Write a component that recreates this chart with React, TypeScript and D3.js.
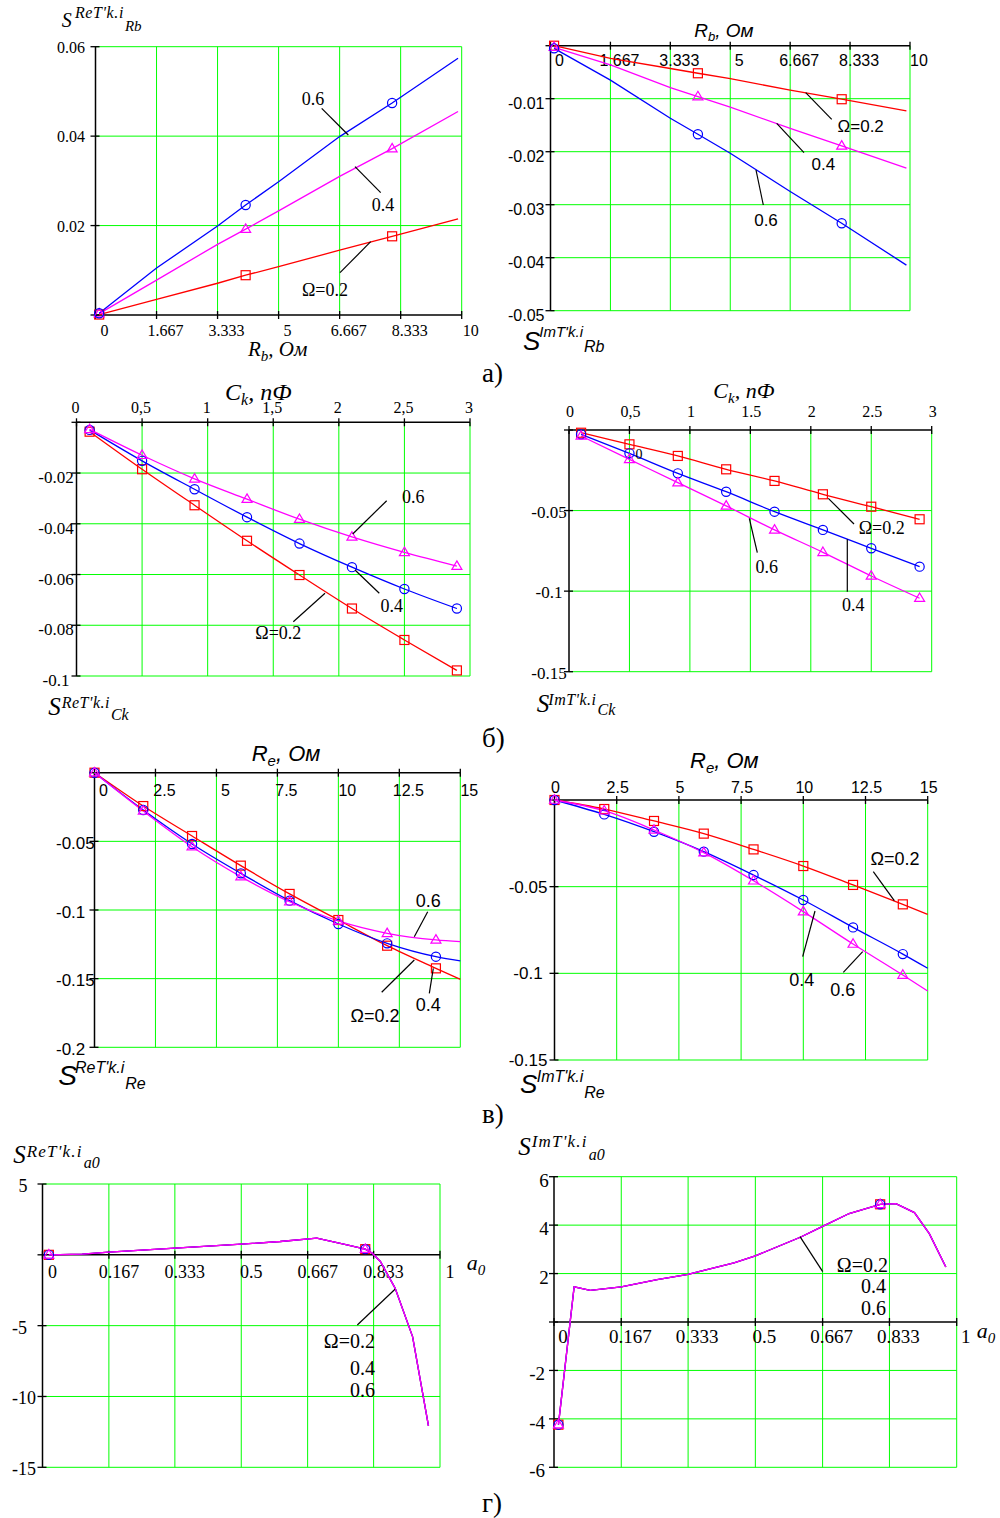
import React from 'react';
import * as d3 from 'd3';

const SERIF = "'Liberation Serif', 'Times New Roman', serif";
const SANS = "'Liberation Sans', Arial, sans-serif";
const RED = '#ff0000';
const BLUE = '#0000ff';
const MAG = '#ff00ff';
const GRID = '#00ff00';

// ---------- DATA ----------
// а) Rb panels
const rbX = [0.1, 1.667, 3.333, 4.1, 5, 6.667, 8.1, 9.9];
const rbMarks = [0, 3, 6];
const sReRb02 = [0.0001, 0.0035, 0.0071, 0.0089, 0.0108, 0.0145, 0.0176, 0.0215];
const sReRb04 = [0.0003, 0.0078, 0.0158, 0.0192, 0.0233, 0.031, 0.0372, 0.0455];
const sReRb06 = [0.0004, 0.0105, 0.0199, 0.0246, 0.0298, 0.0399, 0.0474, 0.0574];
const sImRb02 = [0, -0.0024, -0.0043, -0.0052, -0.0062, -0.0084, -0.0101, -0.0123];
const sImRb04 = [-0.0003, -0.0036, -0.0079, -0.0096, -0.0116, -0.0156, -0.0189, -0.0231];
const sImRb06 = [-0.0005, -0.0065, -0.0137, -0.0167, -0.0203, -0.0275, -0.0335, -0.0414];
const rbTicks = [0, 1.667, 3.333, 5, 6.667, 8.333, 10];
const rbTickLabels = ['0', '1.667', '3.333', '5', '6.667', '8.333', '10'];
const reRbYTicks = [0.02, 0.04, 0.06];
const reRbYLabels = ['0.02', '0.04', '0.06'];
const imRbYTicks = [-0.01, -0.02, -0.03, -0.04, -0.05];
const imRbYLabels = ['-0.01', '-0.02', '-0.03', '-0.04', '-0.05'];

// б) Ck panels
const ckX = [0.1, 0.5, 0.9, 1.3, 1.7, 2.1, 2.5, 2.9];
const ckMarks = [0, 1, 2, 3, 4, 5, 6, 7];
const sReCk02 = [-0.0037, -0.0185, -0.0327, -0.0467, -0.0602, -0.0734, -0.0858, -0.0978];
const sReCk04 = [-0.003, -0.0152, -0.0264, -0.0374, -0.0478, -0.0571, -0.0657, -0.0734];
const sReCk06 = [-0.0028, -0.013, -0.0223, -0.0303, -0.0382, -0.0452, -0.0513, -0.0567];
const sImCk02 = [-0.0017, -0.0089, -0.0161, -0.0244, -0.0316, -0.0399, -0.0476, -0.0554];
const sImCk04 = [-0.0027, -0.0145, -0.0269, -0.0383, -0.0507, -0.062, -0.0734, -0.0848];
const sImCk06 = [-0.0037, -0.0182, -0.0327, -0.0471, -0.062, -0.0759, -0.0906, -0.1044];
const ckTicks = [0, 0.5, 1, 1.5, 2, 2.5, 3];
const reCkTickLabels = ['0', '0,5', '1', '1,5', '2', '2,5', '3'];
const imCkTickLabels = ['0', '0,5', '1', '1.5', '2', '2.5', '3'];
const reCkYTicks = [-0.02, -0.04, -0.06, -0.08, -0.1];
const reCkYLabels = ['-0.02', '-0.04', '-0.06', '-0.08', '-0.1'];
const imCkYTicks = [-0.05, -0.1, -0.15];
const imCkYLabels = ['-0.05', '-0.1', '-0.15'];

// в) Re panels
const reX = [0, 2, 4, 6, 8, 10, 12, 14, 15];
const reMarks = [0, 1, 2, 3, 4, 5, 6, 7];
const sReRe02 = [0, -0.0243, -0.0461, -0.0677, -0.0883, -0.1073, -0.126, -0.1425, -0.1505];
const sReRe04 = [0, -0.0272, -0.0519, -0.0733, -0.0932, -0.1102, -0.1243, -0.134, -0.1371];
const sReRe06 = [0, -0.0279, -0.0539, -0.0757, -0.094, -0.108, -0.117, -0.1218, -0.123];
const sImRe02 = [0, -0.0052, -0.0121, -0.0194, -0.0285, -0.0381, -0.049, -0.0602, -0.066];
const sImRe04 = [0, -0.0083, -0.0183, -0.0298, -0.0433, -0.0577, -0.0735, -0.0889, -0.0971];
const sImRe06 = [0, -0.0062, -0.0173, -0.0304, -0.0466, -0.0644, -0.0831, -0.101, -0.1102];
const reTicks = [0, 2.5, 5, 7.5, 10, 12.5, 15];
const reTickLabels = ['0', '2.5', '5', '7.5', '10', '12.5', '15'];
const reReYTicks = [-0.05, -0.1, -0.15, -0.2];
const reReYLabels = ['-0.05', '-0.1', '-0.15', '-0.2'];
const imReYTicks = [-0.05, -0.1, -0.15];
const imReYLabels = ['-0.05', '-0.1', '-0.15'];

// г) a0 panels (all three Ω curves coincide)
const a0ReX = [0.016, 0.1, 0.167, 0.25, 0.333, 0.5, 0.598, 0.69, 0.766, 0.812, 0.829, 0.85, 0.887, 0.931, 0.971];
const sReA0 = [0, 0.05, 0.19, 0.33, 0.47, 0.75, 0.94, 1.18, 0.7, 0.4, 0.12, -0.47, -2.35, -5.77, -12.07];
const a0ReMarks = [0, 9];
const a0ImX = [0.011, 0.05, 0.09, 0.167, 0.256, 0.333, 0.447, 0.5, 0.613, 0.667, 0.733, 0.81, 0.849, 0.895, 0.932, 0.973];
const sImA0 = [-4.24, 1.45, 1.31, 1.45, 1.75, 1.97, 2.44, 2.73, 3.51, 3.95, 4.48, 4.86, 4.89, 4.52, 3.65, 2.27];
const a0ImMarks = [0, 11];
const a0Ticks = [0, 0.167, 0.333, 0.5, 0.667, 0.833, 1];
const a0TickLabels = ['0', '0.167', '0.333', '0.5', '0.667', '0.833', '1'];
const reA0YTicks = [5, -5, -10, -15];
const reA0YLabels = ['5', '-5', '-10', '-15'];
const imA0YTicks = [6, 4, 2, -2, -4, -6];
const imA0YLabels = ['6', '4', '2', '-2', '-4', '-6'];

// ---------- TYPES ----------
type Marker = 'square' | 'circle' | 'triangle';
interface Series { y: number[]; color: string; marker: Marker; }
interface Note { t: string; x: number; y: number; a?: 'start' | 'middle' | 'end'; s: number; }
interface STitle { sx: number; sy: number; ss: number; sup: string; px: number; py: number; ps: number; sub: string; by: number; bs: number; ls?: number; }
interface ATitle { main: string; sub: string; rest: string; x: number; y: number; s: number; ss: number; }
interface PanelCfg {
  font: string;
  left: number; right: number; top: number; bottom: number;
  xDomain: [number, number]; yDomain: [number, number];
  xTicks: number[]; xLabels: string[]; xAxisAt: number;
  xLabelDx: number; xLabelBase: number; xLabelSize: number;
  yTicks: number[]; yLabels: string[]; yLabelX: number; yLabelAnchor: 'start' | 'middle' | 'end';
  yLabelDy: number; yLabelSize: number; yPosDx?: number;
  x: number[]; series: Series[]; markIdx: number[]; curve: d3.CurveFactory;
  notes: Note[]; leaders: number[][];
  sTitle: STitle; aTitle: ATitle;
}

const MarkerShape = ({ m, x, y, color }: { m: Marker; x: number; y: number; color: string }) => {
  if (m === 'square') return <rect x={x - 4.5} y={y - 4.5} width={9} height={9} fill="none" stroke={color} strokeWidth={1.2} />;
  if (m === 'circle') return <circle cx={x} cy={y} r={4.6} fill="none" stroke={color} strokeWidth={1.2} />;
  const h = 8.5;
  return <path d={`M${x},${y - h * 0.62} L${x + 5},${y + h * 0.38} L${x - 5},${y + h * 0.38} Z`} fill="none" stroke={color} strokeWidth={1.2} />;
};

const Panel = ({ c }: { c: PanelCfg }) => {
  const xs = d3.scaleLinear().domain(c.xDomain).range([c.left, c.right]);
  const ys = d3.scaleLinear().domain(c.yDomain).range([c.bottom, c.top]);
  const axisY = ys(c.xAxisAt);
  const line = d3.line<[number, number]>().x(d => xs(d[0])).y(d => ys(d[1])).curve(c.curve);
  const yTickAll = [...c.yTicks, c.xAxisAt];
  const st = c.sTitle;
  const at = c.aTitle;
  return (
    <g fontFamily={c.font}>
      {/* grid */}
      {c.xTicks.filter(t => t > c.xDomain[0]).map((t, i) => (
        <line key={'gx' + i} x1={xs(t)} x2={xs(t)} y1={c.top} y2={c.bottom} stroke={GRID} strokeWidth={1} />
      ))}
      {c.yTicks.map((t, i) => (
        <line key={'gy' + i} x1={c.left} x2={c.right} y1={ys(t)} y2={ys(t)} stroke={GRID} strokeWidth={1} />
      ))}
      {/* axes */}
      <line x1={c.left} x2={c.right} y1={axisY} y2={axisY} stroke="#000" strokeWidth={1.5} />
      <line x1={c.left} x2={c.left} y1={c.top} y2={c.bottom} stroke="#000" strokeWidth={1.5} />
      {c.xTicks.map((t, i) => (
        <line key={'tx' + i} x1={xs(t)} x2={xs(t)} y1={axisY - 4} y2={axisY + 4} stroke="#000" strokeWidth={1.3} />
      ))}
      {yTickAll.map((t, i) => (
        <line key={'ty' + i} x1={c.left - 5} x2={c.left + 4} y1={ys(t)} y2={ys(t)} stroke="#000" strokeWidth={1.3} />
      ))}
      {/* tick labels */}
      {c.xTicks.map((t, i) => (
        <text key={'lx' + i} x={xs(t) + c.xLabelDx} y={c.xLabelBase} fontSize={c.xLabelSize} textAnchor="middle">{c.xLabels[i]}</text>
      ))}
      {c.yTicks.map((t, i) => (
        <text key={'ly' + i}
          x={c.yLabelX + (c.yPosDx && !c.yLabels[i].startsWith('-') ? c.yPosDx : 0)}
          y={ys(t) + c.yLabelDy} fontSize={c.yLabelSize} textAnchor={c.yLabelAnchor}>{c.yLabels[i]}</text>
      ))}
      {/* curves */}
      {c.series.map((s, i) => (
        <path key={'c' + i} d={line(c.x.map((xv, k) => [xv, s.y[k]] as [number, number])) || ''} fill="none" stroke={s.color} strokeWidth={1.3} />
      ))}
      {c.series.map((s, i) => (
        <g key={'m' + i}>
          {c.markIdx.map(k => <MarkerShape key={k} m={s.marker} x={xs(c.x[k])} y={ys(s.y[k])} color={s.color} />)}
        </g>
      ))}
      {/* leaders */}
      {c.leaders.map((l, i) => (
        <line key={'ld' + i} x1={l[0]} y1={l[1]} x2={l[2]} y2={l[3]} stroke="#000" strokeWidth={1.2} />
      ))}
      {c.notes.map((n, i) => (
        <text key={'n' + i} x={n.x} y={n.y} fontSize={n.s} textAnchor={n.a || 'middle'}>{n.t}</text>
      ))}
      {/* S title */}
      <g fontStyle="italic">
        <text x={st.sx} y={st.sy} fontSize={st.ss}>S</text>
        <text x={st.px} y={st.py} fontSize={st.ps} letterSpacing={st.ls || 0}>
          {st.sup}
          <tspan fontSize={st.bs} dx={1} dy={st.by - st.py} letterSpacing={0}>{st.sub}</tspan>
        </text>
      </g>
      {/* axis title */}
      <text x={at.x} y={at.y} fontSize={at.s} fontStyle="italic">
        <tspan>{at.main}</tspan>
        <tspan fontSize={at.ss} dy={at.s * 0.22}>{at.sub}</tspan>
        {at.rest ? <tspan dy={-at.s * 0.22}>{at.rest}</tspan> : null}
      </text>
    </g>
  );
};

const red = (y: number[]): Series => ({ y, color: RED, marker: 'square' });
const blue = (y: number[]): Series => ({ y, color: BLUE, marker: 'circle' });
const mag = (y: number[]): Series => ({ y, color: MAG, marker: 'triangle' });

const panels: PanelCfg[] = [
  {
    font: SERIF, left: 95.5, right: 461.7, top: 46.7, bottom: 315,
    xDomain: [0, 10], yDomain: [0, 0.06],
    xTicks: rbTicks, xLabels: rbTickLabels, xAxisAt: 0, xLabelDx: 9, xLabelBase: 336, xLabelSize: 16,
    yTicks: reRbYTicks, yLabels: reRbYLabels, yLabelX: 57, yLabelAnchor: 'start', yLabelDy: 6, yLabelSize: 16,
    x: rbX, series: [red(sReRb02), mag(sReRb04), blue(sReRb06)], markIdx: rbMarks, curve: d3.curveLinear,
    notes: [
      { t: '0.6', x: 313, y: 105, s: 18 },
      { t: '0.4', x: 383, y: 211, s: 18 },
      { t: 'Ω=0.2', x: 325, y: 296, s: 18 },
    ],
    leaders: [[321.7, 108.3, 348.3, 135], [355, 166.7, 380.7, 192.7], [340, 272.7, 370.7, 241.7]],
    sTitle: { sx: 61.7, sy: 27, ss: 20, sup: "ReT'k.i", px: 75, py: 18, ps: 16, ls: 0.6, sub: 'Rb', by: 30.7, bs: 15 },
    aTitle: { main: 'R', sub: 'b', rest: ', Ом', x: 248, y: 356, s: 21, ss: 15 },
  },
  {
    font: SANS, left: 550.5, right: 910, top: 45.7, bottom: 310.7,
    xDomain: [0, 10], yDomain: [-0.05, 0],
    xTicks: rbTicks, xLabels: rbTickLabels, xAxisAt: 0, xLabelDx: 9, xLabelBase: 65.7, xLabelSize: 16,
    yTicks: imRbYTicks, yLabels: imRbYLabels, yLabelX: 508, yLabelAnchor: 'start', yLabelDy: 10, yLabelSize: 16,
    x: rbX, series: [red(sImRb02), mag(sImRb04), blue(sImRb06)], markIdx: rbMarks, curve: d3.curveLinear,
    notes: [
      { t: 'Ω=0.2', x: 860.7, y: 131.5, s: 17 },
      { t: '0.4', x: 823.3, y: 170, s: 17 },
      { t: '0.6', x: 766, y: 225.5, s: 17 },
    ],
    leaders: [[805.7, 92.7, 831.7, 119.3], [776.7, 123.3, 804, 152.7], [756, 170, 763.3, 205]],
    sTitle: { sx: 523, sy: 350, ss: 26, sup: "ImT'k.i", px: 539.3, py: 337.3, ps: 15, sub: 'Rb', by: 352, bs: 16 },
    aTitle: { main: 'R', sub: 'b', rest: ', Ом', x: 694.3, y: 36.7, s: 19, ss: 13 },
  },
  {
    font: SERIF, left: 76.5, right: 470, top: 422.3, bottom: 676,
    xDomain: [0, 3], yDomain: [-0.1, 0],
    xTicks: ckTicks, xLabels: reCkTickLabels, xAxisAt: 0, xLabelDx: -1, xLabelBase: 413, xLabelSize: 16,
    yTicks: reCkYTicks, yLabels: reCkYLabels, yLabelX: 56, yLabelAnchor: 'middle', yLabelDy: 10, yLabelSize: 17,
    x: ckX, series: [red(sReCk02), blue(sReCk04), mag(sReCk06)], markIdx: ckMarks, curve: d3.curveMonotoneX,
    notes: [
      { t: '0.6', x: 413.3, y: 502.5, s: 18 },
      { t: '0.4', x: 391.7, y: 611.5, s: 18 },
      { t: 'Ω=0.2', x: 278.3, y: 639, s: 18 },
    ],
    leaders: [[386.7, 500.7, 352.7, 534], [355, 570, 379.3, 593.3], [293.3, 621.7, 325, 593.3]],
    sTitle: { sx: 48.3, sy: 715, ss: 25, sup: "ReT'k.i", px: 61.7, py: 708, ps: 16, ls: 0.5, sub: 'Ck', by: 720, bs: 16 },
    aTitle: { main: 'C', sub: 'k', rest: ', пФ', x: 225, y: 400, s: 24, ss: 16 },
  },
  {
    font: SERIF, left: 569, right: 931.7, top: 430, bottom: 671.7,
    xDomain: [0, 3], yDomain: [-0.15, 0],
    xTicks: ckTicks, xLabels: imCkTickLabels, xAxisAt: 0, xLabelDx: 1, xLabelBase: 417.3, xLabelSize: 16,
    yTicks: imCkYTicks, yLabels: imCkYLabels, yLabelX: 549, yLabelAnchor: 'middle', yLabelDy: 7, yLabelSize: 17,
    x: ckX, series: [red(sImCk02), blue(sImCk04), mag(sImCk06)], markIdx: ckMarks, curve: d3.curveMonotoneX,
    notes: [
      { t: 'Ω=0.2', x: 881.7, y: 534, s: 18 },
      { t: '0.6', x: 766.7, y: 573.3, s: 18 },
      { t: '0.4', x: 853.3, y: 610.7, s: 18 },
      { t: '0', x: 639, y: 459, s: 14 },
    ],
    leaders: [[828.3, 498.3, 854, 524], [749.3, 518.3, 757.3, 552.7], [847.3, 539.3, 847.3, 591.7]],
    sTitle: { sx: 536.7, sy: 711.7, ss: 25, sup: "ImT'k.i", px: 548.3, py: 705, ps: 16, ls: 0.5, sub: 'Ck', by: 715, bs: 16 },
    aTitle: { main: 'C', sub: 'k', rest: ', пФ', x: 713.3, y: 398, s: 22, ss: 15 },
  },
  {
    font: SANS, left: 94.5, right: 460.3, top: 772.7, bottom: 1047.3,
    xDomain: [0, 15], yDomain: [-0.2, 0],
    xTicks: reTicks, xLabels: reTickLabels, xAxisAt: 0, xLabelDx: 9, xLabelBase: 796, xLabelSize: 16,
    yTicks: reReYTicks, yLabels: reReYLabels, yLabelX: 56, yLabelAnchor: 'start', yLabelDy: 7.5, yLabelSize: 17,
    x: reX, series: [red(sReRe02), blue(sReRe04), mag(sReRe06)], markIdx: reMarks, curve: d3.curveMonotoneX,
    notes: [
      { t: '0.6', x: 428.3, y: 906.5, s: 18 },
      { t: 'Ω=0.2', x: 375, y: 1022, s: 18 },
      { t: '0.4', x: 428.3, y: 1011, s: 18 },
    ],
    leaders: [[427.7, 911.7, 414.3, 936.7], [381.7, 992.3, 414.3, 960], [429.3, 993.3, 433.3, 968.3]],
    sTitle: { sx: 58.3, sy: 1085, ss: 28, sup: "ReT'k.i", px: 75, py: 1073, ps: 16, sub: 'Re', by: 1089, bs: 16 },
    aTitle: { main: 'R', sub: 'e', rest: ', Ом', x: 251.7, y: 761, s: 22, ss: 15 },
  },
  {
    font: SANS, left: 554.5, right: 927.7, top: 800, bottom: 1060,
    xDomain: [0, 15], yDomain: [-0.15, 0],
    xTicks: reTicks, xLabels: reTickLabels, xAxisAt: 0, xLabelDx: 1, xLabelBase: 793.3, xLabelSize: 16,
    yTicks: imReYTicks, yLabels: imReYLabels, yLabelX: 528, yLabelAnchor: 'middle', yLabelDy: 6, yLabelSize: 17,
    x: reX, series: [red(sImRe02), blue(sImRe04), mag(sImRe06)], markIdx: reMarks, curve: d3.curveMonotoneX,
    notes: [
      { t: 'Ω=0.2', x: 895, y: 865, s: 18 },
      { t: '0.4', x: 801.7, y: 985.5, s: 18 },
      { t: '0.6', x: 842.7, y: 995.5, s: 18 },
    ],
    leaders: [[873.3, 871.7, 894.3, 900.7], [815, 911, 802.7, 956.7], [843.3, 972.3, 862.7, 951.7]],
    sTitle: { sx: 520, sy: 1093, ss: 26, sup: "ImT'k.i", px: 536.7, py: 1081.7, ps: 16, sub: 'Re', by: 1097.7, bs: 16 },
    aTitle: { main: 'R', sub: 'e', rest: ', Ом', x: 690, y: 768, s: 22, ss: 15 },
  },
  {
    font: SERIF, left: 42.5, right: 440, top: 1184, bottom: 1467.3,
    xDomain: [0, 1], yDomain: [-15, 5],
    xTicks: a0Ticks, xLabels: a0TickLabels, xAxisAt: 0, xLabelDx: 10, xLabelBase: 1278, xLabelSize: 18,
    yTicks: reA0YTicks, yLabels: reA0YLabels, yLabelX: 12, yLabelAnchor: 'start', yLabelDy: 8, yLabelSize: 18, yPosDx: 6.6,
    x: a0ReX, series: [red(sReA0), blue(sReA0), mag(sReA0)], markIdx: a0ReMarks, curve: d3.curveLinear,
    notes: [
      { t: 'Ω=0.2', x: 375, y: 1348, s: 20, a: 'end' },
      { t: '0.4', x: 375, y: 1375, s: 20, a: 'end' },
      { t: '0.6', x: 375, y: 1397, s: 20, a: 'end' },
    ],
    leaders: [[357.3, 1325, 395, 1289.3]],
    sTitle: { sx: 13.3, sy: 1163, ss: 25, sup: "ReT'k.i", px: 26.7, py: 1156.7, ps: 17, ls: 1.2, sub: 'a0', by: 1168, bs: 16 },
    aTitle: { main: 'a', sub: '0', rest: '', x: 466.7, y: 1270, s: 22, ss: 15 },
  },
  {
    font: SERIF, left: 554, right: 956.7, top: 1176.7, bottom: 1467.3,
    xDomain: [0, 1], yDomain: [-6, 6],
    xTicks: a0Ticks, xLabels: a0TickLabels, xAxisAt: 0, xLabelDx: 9, xLabelBase: 1343, xLabelSize: 19,
    yTicks: imA0YTicks, yLabels: imA0YLabels, yLabelX: 529.3, yLabelAnchor: 'start', yLabelDy: 10, yLabelSize: 19, yPosDx: 10,
    x: a0ImX, series: [red(sImA0), blue(sImA0), mag(sImA0)], markIdx: a0ImMarks, curve: d3.curveLinear,
    notes: [
      { t: 'Ω=0.2', x: 888, y: 1271.5, s: 20, a: 'end' },
      { t: '0.4', x: 886, y: 1293, s: 20, a: 'end' },
      { t: '0.6', x: 886, y: 1315, s: 20, a: 'end' },
    ],
    leaders: [[800, 1236.7, 822.7, 1271.7]],
    sTitle: { sx: 518.3, sy: 1155, ss: 25, sup: "ImT'k.i", px: 531.7, py: 1147, ps: 17, ls: 1.2, sub: 'a0', by: 1160, bs: 16 },
    aTitle: { main: 'a', sub: '0', rest: '', x: 976.7, y: 1338, s: 22, ss: 15 },
  },
];

const panelLetters = ['а)', 'б)', 'в)', 'г)'];
const letterBase = [382, 747, 1123, 1512];

export default function App() {
  return (
    <svg width={1000} height={1518} viewBox="0 0 1000 1518"
      style={{ position: 'absolute', left: 0, top: 0, background: '#fff', display: 'block' }}>
      <rect x={0} y={0} width={1000} height={1518} fill="#fff" />
      {panels.map((p, i) => <Panel key={i} c={p} />)}
      {panelLetters.map((t, i) => (
        <text key={t} x={482} y={letterBase[i]} fontFamily={SERIF} fontSize={27}>{t}</text>
      ))}
    </svg>
  );
}
